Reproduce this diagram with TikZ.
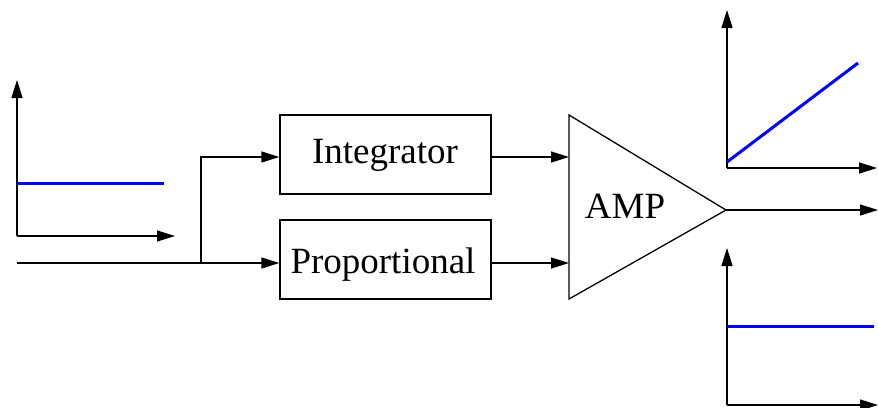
\documentclass[tikz,border=0pt]{standalone}
\usepackage{fontspec}
\setmainfont{Liberation Serif}
\usetikzlibrary{arrows.meta}
\tikzset{
  sig/.style={line width=1.3pt, -{Triangle[length=18pt,width=11pt]}},
  wire/.style={line width=1.3pt},
  curve/.style={line width=3pt, blue, line cap=butt},
  block/.style={draw, line width=1.3pt, minimum width=211pt, minimum height=79pt,
    inner sep=0pt},
  blocktext/.style={anchor=base, inner sep=0pt, font=\fontsize{37}{40}\selectfont},
}
\begin{document}
\begin{tikzpicture}[x=1pt, y=-1pt]
  \useasboundingbox (0,0) rectangle (878,407);

  % blocks
  \node[block] (integ) at (385.5,154.5) {};
  \node[blocktext] (integText) at (385,163) {Integrator};
  \node[block] (prop) at (385.5,259.5) {};
  \node[blocktext] (propText) at (383,273) {Proportional};

  % amplifier
  \coordinate (ampTL) at (569,115);
  \coordinate (ampBL) at (569,299);
  \coordinate (ampOut) at (726,210);
  \draw[wire, line join=miter] (ampTL) -- (ampOut) -- (ampBL) -- cycle;
  \node[blocktext] (amp) at (625,218.5) {AMP};
  \coordinate (ampIn1) at (569,157);
  \coordinate (ampIn2) at (569,263);

  % input and branching
  \coordinate (inStart) at (17,263);
  \coordinate (branch) at (201,263);
  \coordinate (branchUp) at (201,157);
  \draw[wire] (inStart) -- (branch);
  \draw[sig] (branch) -- (prop.west |- branch);
  \draw[sig, line join=miter] (branch) -- (branchUp) -- (integ.west |- branchUp);

  % block outputs
  \draw[sig] (integ.east |- ampIn1) -- (ampIn1);
  \draw[sig] (prop.east |- ampIn2) -- (ampIn2);

  % amplifier output
  \coordinate (outEnd) at (878,210);
  \draw[sig] (ampOut) -- (outEnd);

  % input step plot
  \coordinate (o1) at (17,236);
  \coordinate (y1) at (17,80);
  \coordinate (x1) at (175,236);
  \draw[sig] (o1) -- (y1);
  \draw[sig] (o1) -- (x1);
  \coordinate (s1a) at (17,183);
  \coordinate (s1b) at (164,183);
  \draw[curve] (s1a) -- (s1b);

  % integral ramp plot
  \coordinate (o2) at (727,168);
  \coordinate (y2) at (727,10);
  \coordinate (x2) at (877,168);
  \draw[sig] (o2) -- (y2);
  \draw[sig] (o2) -- (x2);
  \coordinate (r2a) at (727,162);
  \coordinate (r2b) at (858,63);
  \draw[curve] (r2a) -- (r2b);

  % proportional step plot
  \coordinate (o3) at (727,405);
  \coordinate (y3) at (727,248);
  \coordinate (x3) at (878,405);
  \draw[sig] (o3) -- (y3);
  \draw[sig] (o3) -- (x3);
  \coordinate (s3a) at (727,326);
  \coordinate (s3b) at (874,326);
  \draw[curve] (s3a) -- (s3b);
\end{tikzpicture}
\end{document}
